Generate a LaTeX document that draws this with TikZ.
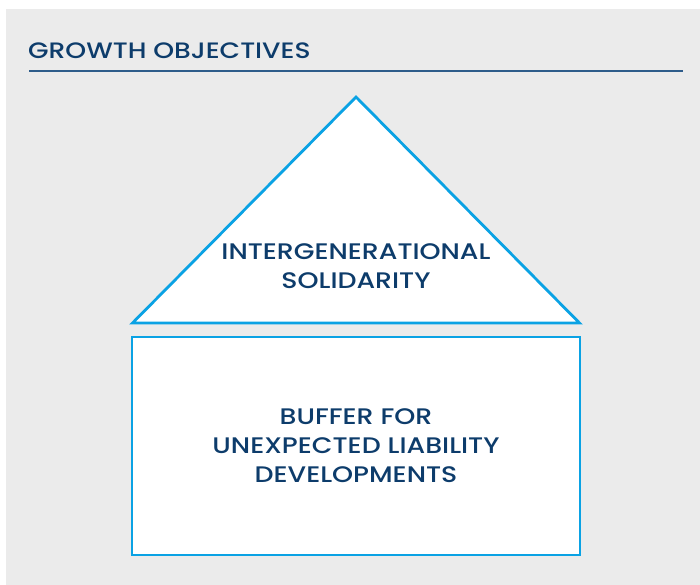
\documentclass[tikz,border=0pt]{standalone}
\usepackage{fontspec}
\setmainfont{Poppins Medium}[FakeStretch=1.19]
\definecolor{bggray}{HTML}{EBEBEB}
\definecolor{navy}{HTML}{0D3C6B}
\definecolor{rulecol}{HTML}{2E5C8A}
\definecolor{skyblue}{HTML}{0AA2E4}
\begin{document}
\begin{tikzpicture}[x=1pt,y=-1pt,
  shapeline/.style={draw=skyblue,line width=2.8pt,fill=white,line join=miter},
  label/.style={text=navy,font=\fontsize{22.5}{29}\selectfont,align=center,inner sep=0pt}]
\useasboundingbox (0,0) rectangle (700,585);
\fill[bggray] (6,9) rectangle (700,585);
\node[anchor=base west,text=navy,font=\fontsize{22.3}{25}\selectfont,inner sep=0pt] (title) at (28,59) {GROWTH OBJECTIVES};
\coordinate (ruleL) at (29,71);
\coordinate (ruleR) at (683,71);
\draw[rulecol,line width=1.4pt] (ruleL) -- (ruleR);
\coordinate (apex) at (356,97);
\coordinate (baseL) at (132.5,323);
\coordinate (baseR) at (579.5,323);
\draw[shapeline] (apex) -- (baseR) -- (baseL) -- cycle;
\node[label,anchor=base] (tri) at (356,288) {INTERGENERATIONAL\\SOLIDARITY};
\draw[shapeline] (132,337) rectangle (580,555);
\node[label,anchor=base] (box) at (356,482) {BUFFER FOR\\UNEXPECTED LIABILITY\\DEVELOPMENTS};
\end{tikzpicture}
\end{document}
